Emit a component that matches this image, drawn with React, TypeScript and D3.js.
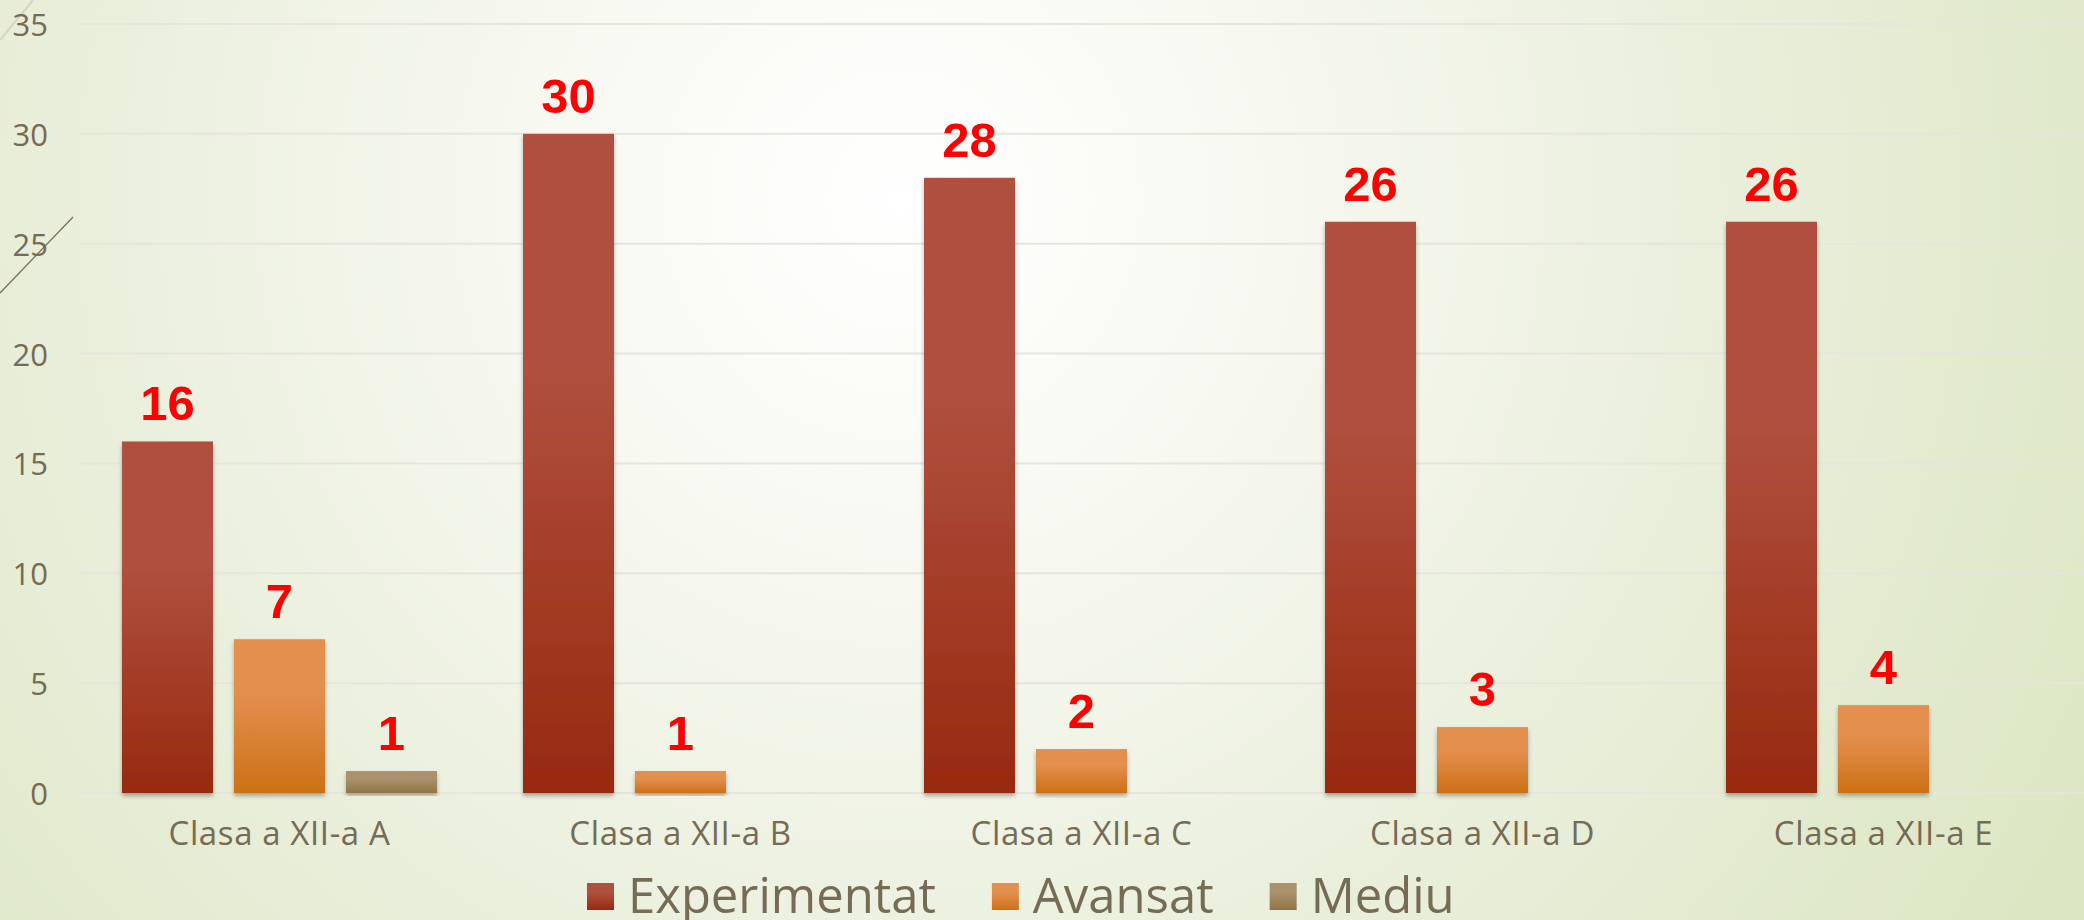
import React, { useEffect, useRef } from 'react';
import * as d3 from 'd3';

const categories = ['Clasa a XII-a A', 'Clasa a XII-a B', 'Clasa a XII-a C', 'Clasa a XII-a D', 'Clasa a XII-a E'];
const seriesNames = ['Experimentat', 'Avansat', 'Mediu'];
const experimentat = [16, 30, 28, 26, 26];
const avansat = [7, 1, 2, 3, 4];
const mediu = [1, 0, 0, 0, 0];
const yTicks = [0, 5, 10, 15, 20, 25, 30, 35];

const seriesValues = [experimentat, avansat, mediu];
const seriesTop = ['#B0503F', '#E38F4E', '#A9926C'];
const seriesBottom = ['#97290F', '#CD7016', '#927446'];

const W = 2084;
const H = 920;
const FONT = "'Open Sans', 'Noto Sans', sans-serif";
const TEXT = '#766B54';

export default function App() {
  const ref = useRef<SVGSVGElement | null>(null);

  useEffect(() => {
    const svg = d3.select(ref.current);
    svg.selectAll('*').remove();

    const left = 79, right = 2084, top = 24, bottom = 793;
    const y = d3.scaleLinear().domain([0, 35]).range([bottom, top]);
    const x0 = d3.scaleBand<string>().domain(categories).range([left, right]).paddingInner(0.2145).paddingOuter(0.10725);
    const x1 = d3.scaleBand<string>().domain(seriesNames).range([0, x0.bandwidth()]).paddingInner(0.1875).paddingOuter(0);

    const defs = svg.append('defs');
    const bg = defs.append('radialGradient').attr('id', 'bg')
      .attr('gradientUnits', 'userSpaceOnUse')
      .attr('cx', 900).attr('cy', 200).attr('r', 1350);
    bg.append('stop').attr('offset', 0).attr('stop-color', '#FFFFFF');
    bg.append('stop').attr('offset', 0.25).attr('stop-color', '#F8F9F2');
    bg.append('stop').attr('offset', 0.6).attr('stop-color', '#EAEFDC');
    bg.append('stop').attr('offset', 1).attr('stop-color', '#DCE6C2');

    seriesNames.forEach((s, i) => {
      const g = defs.append('linearGradient').attr('id', `grad${i}`).attr('x1', 0).attr('y1', 0).attr('x2', 0).attr('y2', 1);
      g.append('stop').attr('offset', 0).attr('stop-color', seriesTop[i]);
      g.append('stop').attr('offset', 0.35).attr('stop-color', seriesTop[i]);
      g.append('stop').attr('offset', 1).attr('stop-color', seriesBottom[i]);
    });
    const f = defs.append('filter').attr('id', 'shadow').attr('x', '-20%').attr('y', '-5%').attr('width', '140%').attr('height', '115%');
    f.append('feDropShadow').attr('dx', 0).attr('dy', 3).attr('stdDeviation', 2).attr('flood-color', '#000').attr('flood-opacity', 0.3);

    svg.append('rect').attr('width', W).attr('height', H).attr('fill', 'url(#bg)');

    // decorative slide lines
    svg.append('line').attr('x1', 0).attr('y1', 40).attr('x2', 33).attr('y2', 0).attr('stroke', '#D3D6C2').attr('stroke-width', 2);
    svg.append('line').attr('x1', 0).attr('y1', 293).attr('x2', 73).attr('y2', 217).attr('stroke', '#7B7059').attr('stroke-width', 1.3);

    // gridlines
    svg.append('g').selectAll('line').data(yTicks).join('line')
      .attr('x1', left).attr('x2', right)
      .attr('y1', d => y(d)).attr('y2', d => y(d))
      .attr('stroke', '#E7E4DD').attr('stroke-width', 2);

    // y tick labels
    svg.append('g').selectAll('text').data(yTicks).join('text')
      .attr('x', 48).attr('y', d => y(d))
      .attr('text-anchor', 'end').attr('dominant-baseline', 'central')
      .attr('font-family', FONT).attr('font-size', 31).attr('fill', TEXT)
      .text(d => String(d));

    // bars
    const groups = svg.append('g').selectAll('g').data(categories).join('g')
      .attr('transform', d => `translate(${x0(d)},0)`);
    groups.each(function (cat, ci) {
      const g = d3.select(this);
      seriesNames.forEach((s, si) => {
        const v = seriesValues[si][ci];
        if (!v) return;
        g.append('rect')
          .attr('x', x1(s)!).attr('width', x1.bandwidth())
          .attr('y', y(v)).attr('height', y(0) - y(v))
          .attr('fill', `url(#grad${si})`).attr('filter', 'url(#shadow)');
        g.append('text')
          .attr('x', x1(s)! + x1.bandwidth() / 2).attr('y', y(v) - 21)
          .attr('text-anchor', 'middle')
          .attr('font-family', "'Liberation Sans', Arial, sans-serif").attr('font-weight', 'bold')
          .attr('font-size', 49).attr('fill', '#FF0000')
          .text(String(v));
      });
    });

    // category labels
    svg.append('g').selectAll('text').data(categories).join('text')
      .attr('x', d => x0(d)! + x0.bandwidth() / 2).attr('y', 845)
      .attr('text-anchor', 'middle')
      .attr('font-family', FONT).attr('font-size', 33).attr('letter-spacing', 0.6).attr('fill', TEXT)
      .text(d => d);

    // legend
    const lg = svg.append('g');
    let lx = 587;
    seriesNames.forEach((s, i) => {
      lg.append('rect').attr('x', lx).attr('y', 883).attr('width', 27).attr('height', 27).attr('fill', `url(#grad${i})`);
      const t = lg.append('text').attr('x', lx + 41).attr('y', 913)
        .attr('font-family', FONT).attr('font-size', 49).attr('fill', TEXT).text(s);
      const w = (t.node() as SVGTextElement).getComputedTextLength();
      lx = lx + 41 + w + 56;
    });
  }, []);

  return (
    <>
      <style>{`body{margin:0;overflow:hidden}`}</style>
      <svg ref={ref} width={W} height={H} style={{ display: 'block' }} />
    </>
  );
}
